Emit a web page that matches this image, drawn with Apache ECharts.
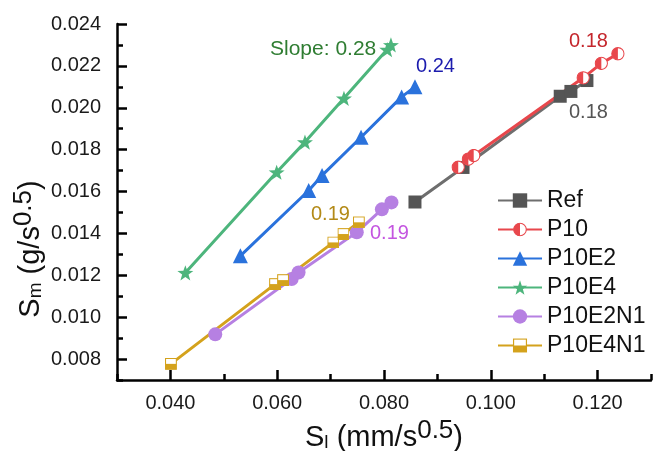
<!DOCTYPE html>
<html>
<head>
<meta charset="utf-8">
<script src="https://cdn.jsdelivr.net/npm/echarts@6/dist/echarts.min.js"></script>
<style>
html,body{margin:0;padding:0;background:#fff;}
#chart{width:653px;height:451px;}
</style>
</head>
<body>
<div id="chart"></div>
<script>
// ---------- data ----------
const seriesNames = ['Ref', 'P10', 'P10E2', 'P10E4', 'P10E2N1', 'P10E4N1'];
const refData = [[0.0858,0.01550],[0.0948,0.01715],[0.1130,0.02055],[0.1150,0.02078],[0.1180,0.02130]];
const p10Data = [[0.0939,0.01716],[0.0958,0.01755],[0.0968,0.01772],[0.1173,0.02143],[0.1207,0.02212],[0.1238,0.02258]];
const p10e2Data = [[0.0531,0.01293],[0.0659,0.01605],[0.0684,0.01677],[0.0757,0.01859],[0.0833,0.02052],[0.0858,0.02100]];
const p10e4Data = [[0.0428,0.01212],[0.0599,0.01692],[0.0652,0.01836],[0.0725,0.02045],[0.0806,0.02278],[0.0813,0.02300]];
const p10e2n1Data = [[0.0484,0.00918],[0.0627,0.01182],[0.0640,0.01213],[0.0749,0.01405],[0.0796,0.01515],[0.0814,0.01548]];
const p10e4n1Data = [[0.0401,0.00777],[0.0596,0.01158],[0.0611,0.01177],[0.0705,0.01357],[0.0724,0.01397],[0.0753,0.01453]];
const xTicks = [0.040, 0.060, 0.080, 0.100, 0.120];
const xMinorTicks = [0.030, 0.050, 0.070, 0.090, 0.110, 0.130];
const yTicks = [0.008, 0.010, 0.012, 0.014, 0.016, 0.018, 0.020, 0.022, 0.024];
const yMinorTicks = [0.007, 0.009, 0.011, 0.013, 0.015, 0.017, 0.019, 0.021, 0.023];
const slopeLabels = ['Slope: 0.28', '0.24', '0.18', '0.18', '0.19', '0.19'];
const xName = 'S{sub|l} (mm/s{sup|0.5})';
const yName = 'S{sub|m} (g/s{sup|0.5})';

// ---------- styles ----------
const FONT = 'Liberation Sans, Arial, sans-serif';
const C = {
  ref: '#555555', refLine: '#6e6e6e',
  p10: '#e8474c',
  e2: '#2a72dc',
  e4: '#4db57c',
  e2n1: '#b680e2',
  e4n1: '#d4a21c'
};
function svgUri(svg){ return 'image://data:image/svg+xml;charset=utf-8,' + encodeURIComponent(svg); }
const halfCircle = svgUri("<svg xmlns='http://www.w3.org/2000/svg' width='40' height='40' viewBox='0 0 40 40'><circle cx='20' cy='20' r='17.5' fill='white' stroke='" + C.p10 + "' stroke-width='3'/><path d='M20 2.5 A17.5 17.5 0 0 0 20 37.5 Z' fill='" + C.p10 + "'/></svg>");
const halfSquare = svgUri("<svg xmlns='http://www.w3.org/2000/svg' width='40' height='40' viewBox='0 0 40 40'><rect x='2' y='2' width='36' height='36' fill='white' stroke='" + C.e4n1 + "' stroke-width='3.5'/><rect x='2' y='20' width='36' height='18' fill='" + C.e4n1 + "'/></svg>");
const star = 'path://M50,0 L61.76,33.82 L97.55,34.55 L69.02,56.18 L79.39,90.45 L50,70 L20.61,90.45 L30.98,56.18 L2.45,34.55 L38.24,33.82 Z';

function mkSeries(name, data, color, lineColor, symbol, size){
  return {
    name: name, type: 'line', data: data,
    symbol: symbol, symbolSize: size, symbolKeepAspect: true,
    lineStyle: { color: lineColor, width: 3 },
    itemStyle: { color: color, borderWidth: 0 },
    emphasis: { disabled: true },
    z: 2
  };
}

const nameRich = {
  sub: { fontSize: 19, padding: [9,0,0,0], fontFamily: FONT, color: '#111' },
  sup: { fontSize: 26, padding: [0,0,14,0], fontFamily: FONT, color: '#111' }
};
const nameRichG = {
  sub: { fontSize: 19, padding: [9,0,0,0], fontFamily: FONT, fill: '#111' },
  sup: { fontSize: 26, padding: [0,0,14,0], fontFamily: FONT, fill: '#111' }
};

const chart = echarts.init(document.getElementById('chart'), null, { renderer: 'canvas' });
const axisCommon = { type: 'value', splitLine: { show: false } };
chart.setOption({
  animation: false,
  backgroundColor: '#fff',
  grid: { left: 117, top: 24, right: 2, bottom: 71, containLabel: false, outerBoundsMode: 'none' },
  xAxis: [
    Object.assign({}, axisCommon, {
      min: 0.03, max: 0.13, position: 'bottom',
      axisLine: { lineStyle: { color: '#000', width: 2.5 } },
      axisTick: { inside: true, length: 10, lineStyle: { color: '#000', width: 2.5 }, customValues: xTicks },
      axisLabel: { customValues: xTicks, formatter: v => v.toFixed(3), fontSize: 20, color: '#1a1a1a', fontFamily: FONT, margin: 13 },
      name: xName, nameLocation: 'middle', nameGap: 33,
      nameTextStyle: { fontSize: 29, color: '#111', fontFamily: FONT, rich: nameRich }
    }),
    Object.assign({}, axisCommon, {
      min: 0.03, max: 0.13, position: 'bottom',
      axisLine: { show: false },
      axisTick: { inside: true, length: 6, lineStyle: { color: '#000', width: 2.5 }, customValues: xMinorTicks },
      axisLabel: { show: false }
    })
  ],
  yAxis: [
    Object.assign({}, axisCommon, {
      min: 0.007, max: 0.024, position: 'left',
      axisLine: { lineStyle: { color: '#000', width: 2.5 } },
      axisTick: { inside: true, length: 10, lineStyle: { color: '#000', width: 2.5 }, customValues: yTicks },
      axisLabel: { customValues: yTicks, formatter: v => v.toFixed(3), fontSize: 20, color: '#1a1a1a', fontFamily: FONT, margin: 16 }
    }),
    Object.assign({}, axisCommon, {
      min: 0.007, max: 0.024, position: 'left',
      axisLine: { show: false },
      axisTick: { inside: true, length: 6, lineStyle: { color: '#000', width: 2.5 }, customValues: yMinorTicks },
      axisLabel: { show: false }
    })
  ],
  legend: {
    left: 492, top: 184, orient: 'vertical',
    itemWidth: 44, itemHeight: 18, itemGap: 6,
    textStyle: { fontSize: 23, color: '#111', fontFamily: FONT, lineHeight: 22 },
    data: seriesNames
  },
  series: [
    mkSeries(seriesNames[0], refData, C.ref, C.refLine, 'rect', 13),
    mkSeries(seriesNames[1], p10Data, C.p10, C.p10, halfCircle, 14),
    mkSeries(seriesNames[2], p10e2Data, C.e2, C.e2, 'triangle', 15),
    mkSeries(seriesNames[3], p10e4Data, C.e4, C.e4, star, 16),
    mkSeries(seriesNames[4], p10e2n1Data, C.e2n1, C.e2n1, 'circle', 14),
    mkSeries(seriesNames[5], p10e4n1Data, C.e4n1, C.e4n1, halfSquare, 12)
  ],
  graphic: [
    { type: 'text', x: 31, y: 249, rotation: Math.PI / 2,
      style: { text: yName, rich: nameRichG, fontSize: 29, fontFamily: FONT, fill: '#111', align: 'center', verticalAlign: 'middle' } },
    { type: 'text', left: 270, top: 39, style: { text: slopeLabels[0], fill: '#2f7d32', font: '21px ' + FONT } },
    { type: 'text', left: 416, top: 56, style: { text: slopeLabels[1], fill: '#1c1cae', font: '20px ' + FONT } },
    { type: 'text', left: 569, top: 31, style: { text: slopeLabels[2], fill: '#c4262c', font: '20px ' + FONT } },
    { type: 'text', left: 569, top: 102, style: { text: slopeLabels[3], fill: '#555555', font: '20px ' + FONT } },
    { type: 'text', left: 311, top: 204, style: { text: slopeLabels[4], fill: '#b38a17', font: '20px ' + FONT } },
    { type: 'text', left: 370, top: 223, style: { text: slopeLabels[5], fill: '#c455e0', font: '20px ' + FONT } }
  ]
});
</script>
</body>
</html>
